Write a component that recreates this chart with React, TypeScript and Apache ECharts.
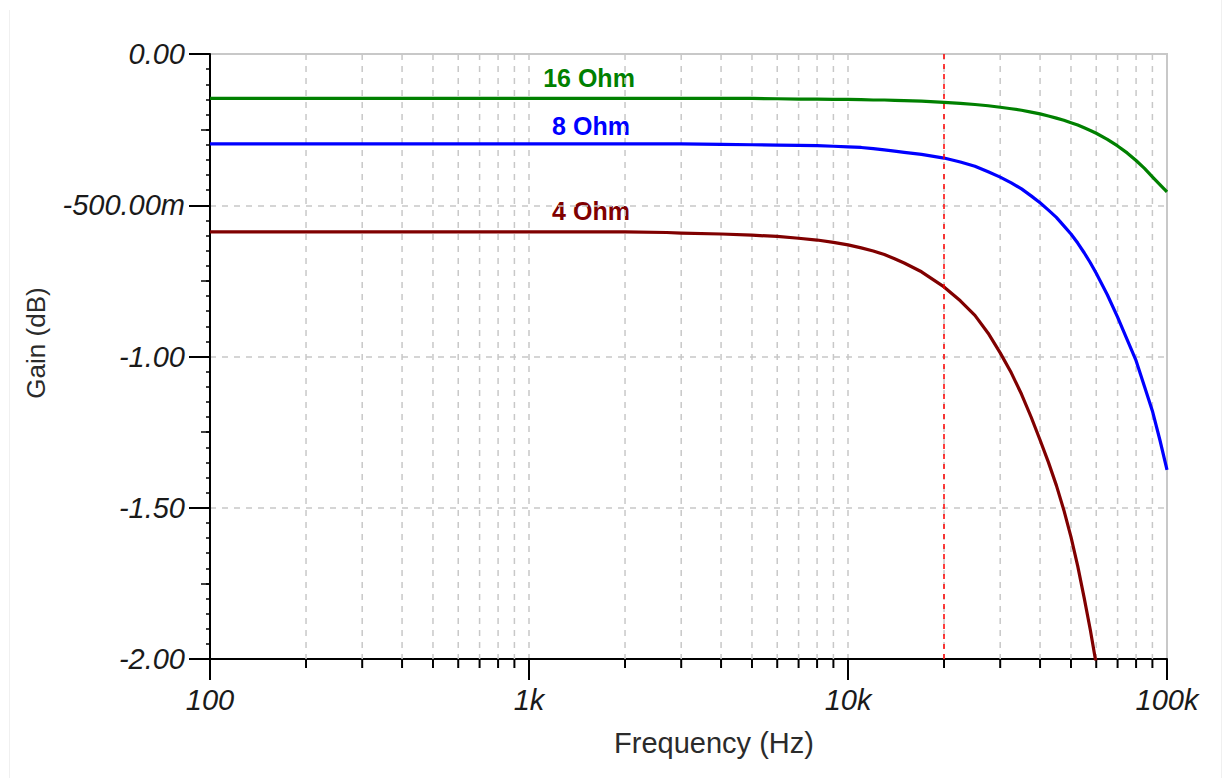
import React, { useEffect, useRef } from "react";
import * as echarts from "echarts";

// ---- data ----
const freqHz = [100, 200, 500, 1000, 2000, 2700, 3000, 4000, 5000, 6000, 7000, 8000, 9000, 10000, 11000, 12000, 13000, 14000, 15000, 17000, 20000, 22500, 25000, 27500, 30000, 32500, 35000, 37500, 40000, 42500, 45000, 47500, 50000, 52500, 55000, 57500, 60000, 65000, 70000, 75000, 80000, 85000, 90000, 95000, 100000];
const gain16Ohm = [-0.147, -0.147, -0.147, -0.147, -0.147, -0.147, -0.147, -0.147, -0.147, -0.148, -0.149, -0.149, -0.150, -0.150, -0.151, -0.152, -0.152, -0.153, -0.154, -0.156, -0.160, -0.163, -0.167, -0.171, -0.176, -0.181, -0.186, -0.192, -0.198, -0.205, -0.212, -0.219, -0.227, -0.235, -0.244, -0.253, -0.262, -0.282, -0.304, -0.327, -0.352, -0.378, -0.406, -0.432, -0.456];
const gain8Ohm = [-0.297, -0.297, -0.297, -0.297, -0.297, -0.297, -0.297, -0.299, -0.300, -0.301, -0.302, -0.303, -0.305, -0.307, -0.309, -0.313, -0.317, -0.321, -0.325, -0.332, -0.344, -0.357, -0.371, -0.389, -0.407, -0.426, -0.446, -0.469, -0.492, -0.516, -0.540, -0.568, -0.595, -0.625, -0.657, -0.690, -0.725, -0.796, -0.870, -0.944, -1.014, -1.099, -1.180, -1.276, -1.375];
const gain4Ohm = [-0.588, -0.588, -0.588, -0.588, -0.588, -0.590, -0.592, -0.595, -0.599, -0.603, -0.609, -0.615, -0.623, -0.631, -0.641, -0.651, -0.663, -0.677, -0.691, -0.720, -0.770, -0.816, -0.864, -0.923, -0.988, -1.054, -1.125, -1.200, -1.276, -1.350, -1.426, -1.508, -1.596, -1.693, -1.798, -1.904, -2.017];

const seriesNames = ["16 Ohm", "8 Ohm", "4 Ohm"];
const seriesColors = ["#008000", "#0000ff", "#800000"];

const minorTickFreqs = [200, 300, 400, 500, 600, 700, 800, 900, 2000, 3000, 4000, 5000, 6000, 7000, 8000, 9000, 20000, 30000, 40000, 50000, 60000, 70000, 80000, 90000];
const cursorFreq = 20000;

const xTickValues = [100, 1000, 10000, 100000];
const xTickLabels = ["100", "1k", "10k", "100k"];
const yTickValues = [0, -0.5, -1, -1.5, -2];
const yTickLabels = ["0.00", "-500.00m", "-1.00", "-1.50", "-2.00"];

const xAxisTitle = "Frequency (Hz)";
const yAxisTitle = "Gain (dB)";

const pairs = (fs: number[], vs: number[]) => vs.map((v, i) => [fs[i], v]);

export default function App() {
  const ref = useRef<HTMLDivElement>(null);

  useEffect(() => {
    if (!ref.current) return;
    const chart = echarts.init(ref.current, undefined, { renderer: "svg" });

    const tickFont = {
      fontFamily: "Liberation Sans",
      fontStyle: "italic" as const,
      fontSize: 29,
      color: "#1a1a1a",
    };
    const gridLine = { color: "#c8c8c8", type: [6, 6] as any, width: 1.5 };

    const minorY = (interval: number, len: number) => ({
      type: "value",
      min: -2,
      max: 0,
      interval,
      position: "left",
      axisLine: { show: false, onZero: false },
      axisTick: { show: true, length: len, lineStyle: { color: "#000", width: 1.5 } },
      axisLabel: { show: false },
      splitLine: { show: false },
    });

    const allGains = [gain16Ohm, gain8Ohm, gain4Ohm];

    const option: any = {
      animation: false,
      backgroundColor: "#ffffff",
      grid: {
        left: 210,
        right: 57,
        top: 54,
        bottom: 119,
        show: true,
        borderColor: "#c8c8c8",
        borderWidth: 2,
        backgroundColor: "transparent",
      },
      xAxis: {
        type: "log",
        logBase: 10,
        min: 100,
        max: 100000,
        axisLine: { show: true, onZero: false, lineStyle: { color: "#000", width: 2 } },
        axisTick: { show: true, length: 21, lineStyle: { color: "#000", width: 2 } },
        axisLabel: {
          ...tickFont,
          margin: 26,
          formatter: (v: number) => {
            const i = xTickValues.findIndex((t) => Math.abs(t - v) / t < 1e-6);
            return i >= 0 ? xTickLabels[i] : "";
          },
        },
        splitLine: { show: true, lineStyle: gridLine },
        minorTick: { show: false },
      },
      yAxis: [
        {
          type: "value",
          min: -2,
          max: 0,
          interval: 0.5,
          position: "left",
          axisLine: { show: true, onZero: false, lineStyle: { color: "#000", width: 2 } },
          axisTick: { show: true, length: 21, lineStyle: { color: "#000", width: 2 } },
          axisLabel: {
            ...tickFont,
            margin: 25,
            formatter: (v: number) => {
              const i = yTickValues.findIndex((t) => Math.abs(t - v) < 1e-6);
              return i >= 0 ? yTickLabels[i] : "";
            },
          },
          splitLine: { show: true, lineStyle: gridLine },
        },
        minorY(0.05, 4),
        minorY(0.25, 9),
      ],
      series: [
        {
          type: "custom",
          name: "minor grid",
          silent: true,
          z: 1,
          clip: false,
          data: minorTickFreqs.map((f) => [f, -2]),
          renderItem: (params: any, api: any) => {
            const f = api.value(0);
            const top = api.coord([f, 0]);
            const bot = api.coord([f, -2]);
            return {
              type: "group",
              children: [
                {
                  type: "line",
                  shape: { x1: top[0], y1: top[1], x2: bot[0], y2: bot[1] },
                  style: { stroke: "#c8c8c8", lineWidth: 1.5, lineDash: [6, 6] },
                },
                {
                  type: "line",
                  shape: { x1: bot[0], y1: bot[1], x2: bot[0], y2: bot[1] + 9 },
                  style: { stroke: "#000", lineWidth: 2 },
                },
              ],
            };
          },
        },
        ...allGains.map((g, i) => ({
          type: "line",
          name: seriesNames[i],
          data: pairs(freqHz, g),
          showSymbol: false,
          smooth: false,
          clip: true,
          z: 3,
          lineStyle: { color: seriesColors[i], width: 3.2, join: "round" },
          itemStyle: { color: seriesColors[i] },
          markLine:
            i === 0
              ? {
                  silent: true,
                  symbol: "none",
                  label: { show: false },
                  lineStyle: { color: "#ff0000", type: [5, 5], width: 1.5 },
                  data: [{ xAxis: cursorFreq }],
                }
              : undefined,
        })),
      ],
      graphic: [
        {
          type: "line",
          shape: { x1: 9.5, y1: 10, x2: 9.5, y2: 778 },
          style: { stroke: "#f0f0f0", lineWidth: 1 },
          silent: true,
        },
        {
          type: "line",
          shape: { x1: 1221.5, y1: 0, x2: 1221.5, y2: 778 },
          style: { stroke: "#f0f0f0", lineWidth: 1 },
          silent: true,
        },
        {
          type: "text",
          x: 589,
          y: 78,
          style: {
            text: seriesNames[0],
            fill: seriesColors[0],
            font: 'bold 25px "Liberation Sans"',
            textAlign: "center",
            textVerticalAlign: "middle",
          },
        },
        {
          type: "text",
          x: 591,
          y: 126,
          style: {
            text: seriesNames[1],
            fill: seriesColors[1],
            font: 'bold 25px "Liberation Sans"',
            textAlign: "center",
            textVerticalAlign: "middle",
          },
        },
        {
          type: "text",
          x: 591,
          y: 211,
          style: {
            text: seriesNames[2],
            fill: seriesColors[2],
            font: 'bold 25px "Liberation Sans"',
            textAlign: "center",
            textVerticalAlign: "middle",
          },
        },
        {
          type: "text",
          x: 714,
          y: 743,
          style: {
            text: xAxisTitle,
            fill: "#2b2b2b",
            font: '29px "Liberation Sans"',
            textAlign: "center",
            textVerticalAlign: "middle",
          },
        },
        {
          type: "text",
          x: 36,
          y: 343,
          rotation: Math.PI / 2,
          style: {
            text: yAxisTitle,
            fill: "#2b2b2b",
            font: '26px "Liberation Sans"',
            textAlign: "center",
            textVerticalAlign: "middle",
          },
        },
      ],
    };

    chart.setOption(option);
    return () => chart.dispose();
  }, []);

  return (
    <div
      ref={ref}
      style={{ position: "absolute", left: 0, top: 0, width: 1224, height: 778, background: "#fff" }}
    />
  );
}
